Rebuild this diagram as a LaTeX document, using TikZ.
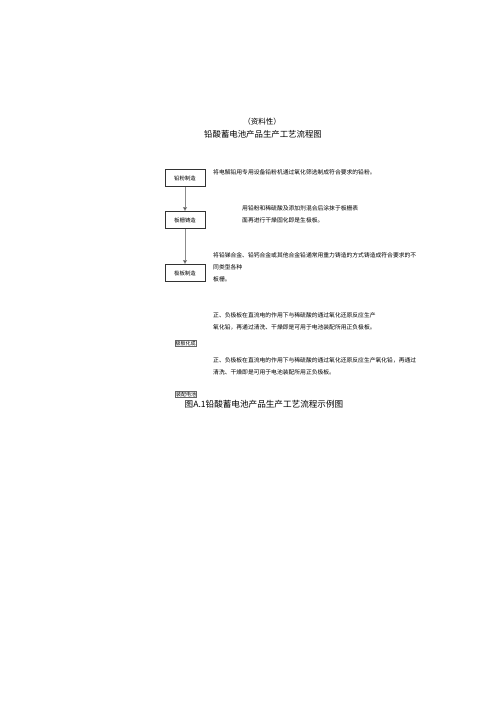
\documentclass[tikz,border=0pt]{standalone}
\usepackage{fontspec}
\newfontfamily\cjk{Noto Sans CJK SC}
\usetikzlibrary{arrows.meta}
\begin{document}
\begin{tikzpicture}[x=1pt,y=-1pt,
  every node/.style={font=\cjk, inner sep=0pt},
  txt/.style={anchor=west, font=\cjk\fontsize{5.8}{6}\selectfont},
  stepbox/.style={draw=black!80, line width=0.9pt, minimum width=40pt, minimum height=17pt, font=\cjk\fontsize{5.4}{6}\selectfont},
  smallbox/.style={draw=black!60, line width=0.4pt, inner sep=0.6pt, font=\cjk\fontsize{5}{5.5}\selectfont},
  flow/.style={draw=black!45, line width=0.8pt, -{Triangle[length=4pt,width=4pt,fill=black]}}
]
\useasboundingbox (0,0) rectangle (500,707);
\node (sub) at (262,122) {\fontsize{7.5}{8}\selectfont （资料性）};
\node (title) at (263,134) {\fontsize{8.4}{9}\selectfont 铅酸蓄电池产品生产工艺流程图};

\node[stepbox] (b1) at (185,178) {铅粉制造};
\node[stepbox] (b2) at (185,220) {板栅铸造};
\node[stepbox] (b3) at (185,273) {极板制造};
\draw[flow] (b1) -- (b2);
\draw[flow] (b2) -- (b3);

\node[txt] (t1) at (213,172) {将电解铅用专用设备铅粉机通过氧化筛选制成符合要求的铅粉。};
\node[txt] (t2a) at (242,208) {用铅粉和稀硫酸及添加剂混合后涂抹于板栅表};
\node[txt] (t2b) at (242,220) {面再进行干燥固化即是生极板。};
\node[txt] (t3a) at (213,255) {将铅锑合金、铅钙合金或其他合金铅通常用重力铸造的方式铸造成符合要求的不};
\node[txt] (t3b) at (213,267) {同类型各种};
\node[txt] (t3c) at (213,279) {板栅。};
\node[txt] (t4a) at (213,315) {正、负极板在直流电的作用下与稀硫酸的通过氧化还原反应生产};
\node[txt] (t4b) at (213,327) {氧化铅，再通过清洗、干燥即是可用于电池装配所用正负极板。};
\node[smallbox] (b4) at (185.5,343.5) {极板化成};
\node[txt] (t5a) at (213,360) {正、负极板在直流电的作用下与稀硫酸的通过氧化还原反应生产氧化铅，再通过};
\node[txt] (t5b) at (213,372) {清洗、干燥即是可用于电池装配所用正负极板。};
\node[smallbox] (b5) at (186,394.5) {装配电池};
\node (cap) at (264,404) {\fontsize{8.6}{9}\selectfont 图A.1铅酸蓄电池产品生产工艺流程示例图};
\end{tikzpicture}
\end{document}
